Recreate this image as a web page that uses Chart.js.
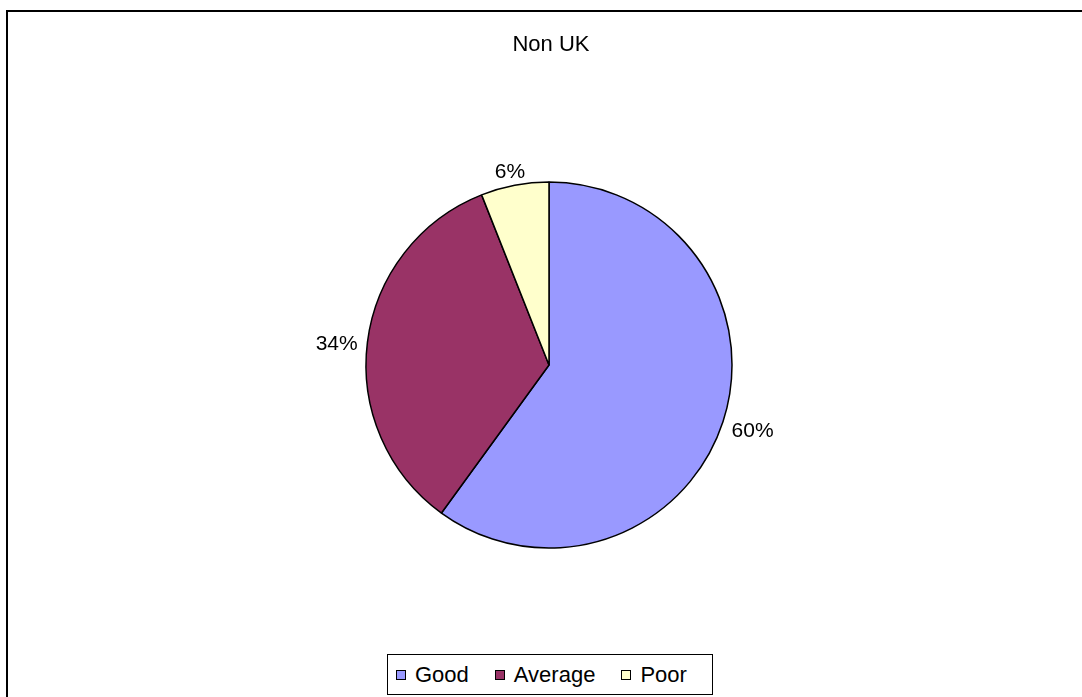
<!DOCTYPE html>
<html>
<head>
<meta charset="utf-8">
<script src="https://cdn.jsdelivr.net/npm/chart.js@4"></script>
<style>
  html, body { margin: 0; padding: 0; background: #fff; overflow: hidden; }
  body { width: 1082px; height: 697px; position: relative; font-family: "Liberation Sans", Arial, sans-serif; }
  #frame { position: absolute; left: 6px; top: 10px; width: 1100px; height: 720px; border: 2px solid #000; box-sizing: border-box; }
  #pie { position: absolute; left: 0; top: 0; }
  #legend {
    position: absolute; left: 387px; top: 654px; width: 326px; height: 41px;
    border: 1px solid #000; box-sizing: border-box; background: #fff;
    display: flex; align-items: center; justify-content: flex-start; gap: 26px;
    padding-left: 8px; font-size: 22px; color: #000;
  }
  #legend .item { display: flex; align-items: center; gap: 9px; }
  #legend .sw { width: 10px; height: 10px; border: 1px solid #000; box-sizing: border-box; display: inline-block; }
</style>
</head>
<body>
<div id="frame"></div>
<canvas id="pie" width="1082" height="697"></canvas>
<div id="legend"></div>
<script>
const chartTitle = 'Non UK';
const categories = ['Good', 'Average', 'Poor'];
const shares     = [60, 34, 6];
const colors     = ['#9999FF', '#993366', '#FFFFCC'];

// ── Étiquettes % à l'extérieur des parts ──────────────────────────────────────
const outsideLabels = {
  id: 'outsideLabels',
  afterDatasetsDraw(chart) {
    const ctx = chart.ctx;
    const meta = chart.getDatasetMeta(0);
    ctx.save();
    ctx.font = '21px "Liberation Sans", Arial, sans-serif';
    ctx.fillStyle = '#000';
    ctx.textAlign = 'center';
    ctx.textBaseline = 'middle';
    meta.data.forEach((arc, i) => {
      const { x, y, startAngle, endAngle, outerRadius } = arc.getProps(['x', 'y', 'startAngle', 'endAngle', 'outerRadius'], true);
      const mid = (startAngle + endAngle) / 2;
      const txt = shares[i] + '%';
      const w = ctx.measureText(txt).width;
      const h = 15;
      const r = outerRadius + 10;
      const cx = x + Math.cos(mid) * r + Math.cos(mid) * w / 2;
      const cy = y + Math.sin(mid) * r + Math.sin(mid) * h / 2 + 4;
      ctx.fillText(txt, cx, cy);
    });
    // titre
    ctx.font = '22px "Liberation Sans", Arial, sans-serif';
    ctx.fillText(chartTitle, 551, 45);
    ctx.restore();
  }
};

new Chart(document.getElementById('pie'), {
  type: 'pie',
  data: {
    labels: categories,
    datasets: [{
      data: shares,
      backgroundColor: colors,
      borderColor: '#000',
      borderWidth: 1.5,
      radius: 183,
    }],
  },
  options: {
    responsive: false,
    animation: false,
    layout: { padding: { left: 200, right: 184, top: 100, bottom: 67 } },
    plugins: {
      legend: { display: false },
      tooltip: { enabled: false },
    },
  },
  plugins: [outsideLabels],
});

// ── Légende ───────────────────────────────────────────────────────────────────
const legend = document.getElementById('legend');
categories.forEach((label, i) => {
  legend.innerHTML += `<span class="item"><span class="sw" style="background:${colors[i]}"></span>${label}</span>`;
});
</script>
</body>
</html>
